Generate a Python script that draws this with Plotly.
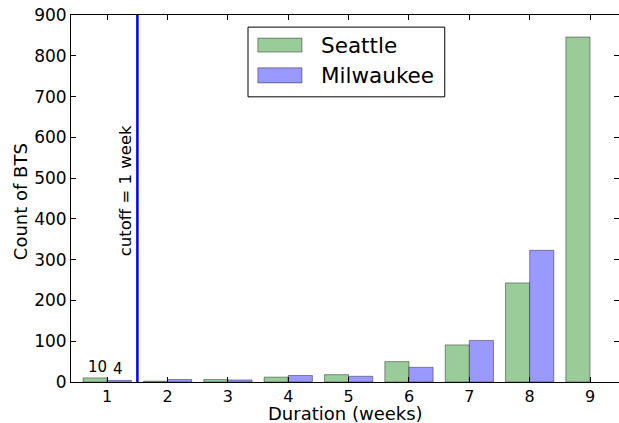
import plotly.graph_objects as go

weeks = [1, 2, 3, 4, 5, 6, 7, 8, 9]
seattle = [10, 2, 6, 12, 18, 50, 91, 243, 846]
milwaukee = [4, 6, 5, 16, 14, 36, 102, 323, None]
y_ticks = [0, 100, 200, 300, 400, 500, 600, 700, 800, 900]
cutoff = 1.5
cutoff_label = "cutoff = 1 week"
series_names = ["Seattle", "Milwaukee"]
series_colors = ["#99cc99", "#9999ff"]
x_title = "Duration (weeks)"
y_title = "Count of BTS"

font = "DejaVu Sans"
edge = "rgba(0,0,0,0.4)"

fig = go.Figure()
fig.add_trace(go.Bar(
    x=weeks, y=seattle, name=series_names[0],
    marker=dict(color=series_colors[0], line=dict(color=edge, width=1)),
))
fig.add_trace(go.Bar(
    x=weeks, y=milwaukee, name=series_names[1],
    marker=dict(color=series_colors[1], line=dict(color=edge, width=1)),
))

# labels above week 1 bars
fig.add_annotation(x=weeks[0], y=seattle[0], text=str(seattle[0]), xshift=-10,
                   yanchor="bottom", showarrow=False, font=dict(size=15, color="black", family=font))
fig.add_annotation(x=weeks[0], y=milwaukee[0], text=str(milwaukee[0]), xshift=11,
                   yanchor="bottom", showarrow=False, font=dict(size=15, color="black", family=font))

fig.add_shape(type="line", x0=cutoff, x1=cutoff, y0=0, y1=1, yref="paper",
              line=dict(color="blue", width=2.5))
fig.add_annotation(x=cutoff, y=470, text=cutoff_label, textangle=-90, xanchor="right",
                   xshift=-1, showarrow=False, font=dict(size=16.5, color="black", family=font))

# axis titles
fig.add_annotation(xref="paper", yref="paper", x=0.5, y=0, yshift=-31, text=x_title,
                   xanchor="center", yanchor="middle", showarrow=False, borderpad=0,
                   font=dict(size=18, color="black", family=font))
fig.add_annotation(xref="paper", yref="paper", x=0, y=0.49, xshift=-51, text=y_title,
                   textangle=-90, xanchor="center", yanchor="middle", showarrow=False,
                   font=dict(size=18, color="black", family=font))

# manual legend (matplotlib style)
fig.add_shape(type="rect", xref="paper", yref="paper", x0=0.323, x1=0.682, y0=0.777, y1=0.967,
              line=dict(color="black", width=1), fillcolor="white", layer="above")
sw_y = [(0.899, 0.937), (0.815, 0.856)]
for (y0, y1), name, col in zip(sw_y, series_names, series_colors):
    fig.add_shape(type="rect", xref="paper", yref="paper", x0=0.341, x1=0.4215, y0=y0, y1=y1,
                  line=dict(color=edge, width=1), fillcolor=col, layer="above")
    fig.add_annotation(xref="paper", yref="paper", x=0.452, y=(y0 + y1) / 2, text=name,
                       xanchor="left", yanchor="middle", showarrow=False,
                       font=dict(size=21.5, color="black", family=font))

fig.update_layout(
    width=619, height=423,
    margin=dict(l=71, r=0, t=15, b=41, autoexpand=False),
    paper_bgcolor="white", plot_bgcolor="white",
    font=dict(family=font, color="black", size=16),
    barmode="group", bargap=0.2, bargroupgap=0,
    showlegend=False,
)
fig.update_xaxes(
    range=[0.4, 9.48], tickvals=weeks, ticktext=[str(w) for w in weeks],
    ticks="inside", ticklen=5, tickcolor="black", showline=True, linecolor="black",
    linewidth=1, mirror="ticks", showgrid=False, zeroline=False, automargin=False,
    tickfont=dict(size=16),
)
fig.update_yaxes(
    range=[0, 900], tickvals=y_ticks,
    ticks="inside", ticklen=5, tickcolor="black", showline=True, linecolor="black",
    linewidth=1, mirror="ticks", showgrid=False, zeroline=False, automargin=False,
    tickfont=dict(size=17),
)

fig.write_html("out.html", config={"displayModeBar": False},
               post_script="document.body.style.margin='0';document.body.style.overflow='hidden';")
